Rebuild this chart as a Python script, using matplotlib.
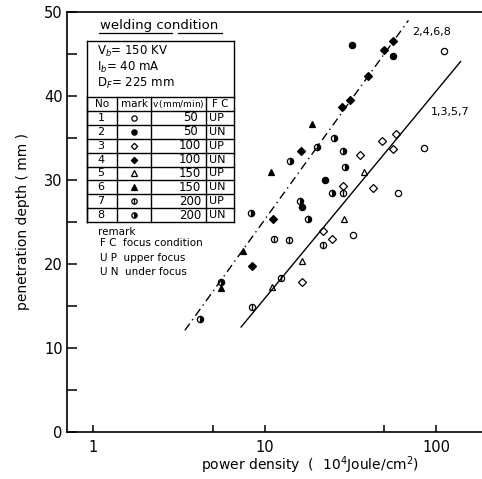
import matplotlib
matplotlib.use("Agg")
import matplotlib.pyplot as plt
from matplotlib.lines import Line2D
from matplotlib.ticker import FixedLocator, NullFormatter

plt.rcParams['font.family'] = ['DejaVu Sans']

# ---------------- data ----------------
s1_x = [111.7, 85.3, 59.9, 32.8]
s1_y = [45.4, 33.8, 28.4, 23.5]
s2_x = [32.3, 56.0, 22.4, 16.5]
s2_y = [46.1, 44.8, 30.0, 26.8]
s3_x = [58.8, 48.1, 56.2, 35.8, 43.0, 21.9, 24.9, 16.6, 28.8]
s3_y = [35.5, 34.6, 33.7, 33.0, 29.0, 23.9, 23.0, 17.9, 29.3]
s4_x = [56.0, 49.4, 39.9, 31.3, 28.3, 16.3, 11.2, 8.4]
s4_y = [46.5, 45.5, 42.4, 39.5, 38.7, 33.4, 25.3, 19.8]
s5_x = [37.8, 28.9, 16.6, 11.1]
s5_y = [30.9, 25.3, 20.4, 17.3]
s6_x = [18.8, 10.9, 7.5, 5.6]
s6_y = [36.7, 30.9, 21.6, 17.1]
s7_x = [28.8, 11.3, 13.8, 21.8, 12.5, 8.5]
s7_y = [28.4, 23.0, 22.9, 22.3, 18.3, 14.9]
s8_x = [25.5, 20.3, 14.1, 28.8, 29.3, 24.6, 16.0, 8.3, 18.0, 5.6, 4.2]
s8_y = [35.0, 33.9, 32.3, 33.4, 31.5, 28.5, 27.5, 26.1, 25.4, 17.9, 13.5]

line_un_x = [3.43, 69.0]   # 2,4,6,8 (under focus) dash-dot
line_un_y = [12.1, 49.0]
line_up_x = [7.3, 139.0]   # 1,3,5,7 (upper focus) solid
line_up_y = [12.5, 44.1]

mark_no = ["1", "2", "3", "4", "5", "6", "7", "8"]
speeds = ["50", "50", "100", "100", "150", "150", "200", "200"]
focus = ["UP", "UN", "UP", "UN", "UP", "UN", "UP", "UN"]

x_ticklabels = ["1", "10", "100"]
y_ticklabels = ["0", "10", "20", "30", "40", "50"]

# ---------------- figure ----------------
W, H = 482, 479
fig = plt.figure(figsize=(W / 100, H / 100), dpi=100)
ax = fig.add_axes([67 / W, 1 - 432 / H, (W - 67) / W, 420 / H])
ax.set_xscale('log')
ax.set_xlim(10 ** -0.152, 10 ** 2.268)
ax.set_ylim(0, 50)

ax.spines['right'].set_visible(False)
for sp in ['left', 'bottom', 'top']:
    ax.spines[sp].set_linewidth(1.2)

ax.xaxis.set_major_locator(FixedLocator([1, 10, 100]))
ax.xaxis.set_minor_locator(FixedLocator([5, 50]))
ax.set_xticklabels(x_ticklabels)
ax.xaxis.set_minor_formatter(NullFormatter())
ax.yaxis.set_major_locator(FixedLocator([0, 10, 20, 30, 40, 50]))
ax.yaxis.set_minor_locator(FixedLocator([5, 15, 25, 35, 45]))
ax.set_yticklabels(y_ticklabels)
ax.tick_params(axis='both', which='both', direction='in', width=1.1, labelsize=10.5)
ax.tick_params(axis='y', which='both', length=7, pad=3)
ax.tick_params(axis='x', which='both', length=5, pad=6)

ms = 4.5
kw = dict(linestyle='none', color='black', markersize=ms, markeredgewidth=0.9, clip_on=False)
ax.plot(s1_x, s1_y, marker='o', markerfacecolor='white', **kw)
ax.plot(s2_x, s2_y, marker='o', markerfacecolor='black', **kw)
ax.plot(s3_x, s3_y, marker='D', markerfacecolor='white', **dict(kw, markersize=3.8))
ax.plot(s4_x, s4_y, marker='D', markerfacecolor='black', **dict(kw, markersize=3.8))
ax.plot(s5_x, s5_y, marker='^', markerfacecolor='white', **kw)
ax.plot(s6_x, s6_y, marker='^', markerfacecolor='black', **kw)
ax.plot(s7_x, s7_y, marker='o', markerfacecolor='white', **kw)
ax.plot(s7_x, s7_y, marker='|', linestyle='none', color='black', markersize=ms, markeredgewidth=1.0)
ax.plot(s8_x, s8_y, marker='o', fillstyle='right', markerfacecolor='black',
        markerfacecoloralt='white', **kw)

ax.plot(line_un_x, line_un_y, color='black', lw=1.0, linestyle=(0, (6, 3, 1, 3)))
ax.plot(line_up_x, line_up_y, color='black', lw=1.0)

fig.text(412 / W, 1 - 32 / H, "2,4,6,8", fontsize=8, va='center', ha='left')
fig.text(431 / W, 1 - 112 / H, "1,3,5,7", fontsize=8, va='center', ha='left')

ax.set_ylabel("penetration depth ( mm )", fontsize=10, labelpad=10)
fig.text(310 / W, 1 - 465 / H, "power density  (  10$^4$Joule/cm$^2$)",
         fontsize=10, ha='center', va='center')

# ---------------- inset table ----------------
def P(px, py):
    return (px / W, 1 - py / H)

def hline(x0, x1, y, lw=1.0):
    fig.add_artist(Line2D([x0 / W, x1 / W], [1 - y / H, 1 - y / H], color='black', lw=lw))

def vline(x, y0, y1, lw=1.0):
    fig.add_artist(Line2D([x / W, x / W], [1 - y0 / H, 1 - y1 / H], color='black', lw=lw))

fig.text(*P(100, 26), "welding condition", fontsize=9.5, va='center', ha='left')
hline(99, 172, 33, lw=0.9)
hline(178, 222, 33, lw=0.9)

left, right = 87, 234
top, head = 41, 97
row_h = 13.9
bottom = head + 9 * row_h
hline(left, right, top)
vline(left, top, bottom)
vline(right, top, head)
fig.text(*P(97, 51), "V$_b$= 150 KV", fontsize=8.5, va='center', ha='left')
fig.text(*P(97, 67), "I$_b$= 40 mA", fontsize=8.5, va='center', ha='left')
fig.text(*P(97, 83), "D$_F$= 225 mm", fontsize=8.5, va='center', ha='left')

cols = [87, 117, 151, 206, 234]
for i in range(10):
    hline(left, right, head + i * row_h)
for c in cols:
    vline(c, head, bottom)

hdr = ["No", "mark", "v$\\,$(mm/min)", "F C"]
for j, t in enumerate(hdr):
    fig.text(*P((cols[j] + cols[j + 1]) / 2, head + row_h / 2), t,
             fontsize=7.5 if j != 2 else 6.5, ha='center', va='center')

marker_specs = [
    dict(marker='o', markerfacecolor='white'),
    dict(marker='o', markerfacecolor='black'),
    dict(marker='D', markerfacecolor='white', markersize=3.2),
    dict(marker='D', markerfacecolor='black', markersize=3.2),
    dict(marker='^', markerfacecolor='white'),
    dict(marker='^', markerfacecolor='black'),
    dict(marker='o', markerfacecolor='white'),
    dict(marker='o', fillstyle='right', markerfacecolor='black', markerfacecoloralt='white'),
]
for i in range(8):
    yc = head + (i + 1.5) * row_h
    fig.text(*P(101, yc), mark_no[i], fontsize=8, ha='center', va='center')
    spec = dict(color='black', markersize=3.8, markeredgewidth=0.9, linestyle='none')
    spec.update(marker_specs[i])
    fig.add_artist(Line2D([134 / W], [1 - yc / H], **spec))
    if i == 6:
        fig.add_artist(Line2D([134 / W], [1 - yc / H], marker='|', color='black',
                              markersize=3.8, markeredgewidth=0.9, linestyle='none'))
    fig.text(*P(190, yc), speeds[i], fontsize=8.5, ha='center', va='center')
    fig.text(*P(209, yc), focus[i], fontsize=8, ha='left', va='center')

fig.text(*P(98, 232), "remark", fontsize=7.5, ha='left', va='center')
fig.text(*P(100, 243), "F C  focus condition", fontsize=7.5, ha='left', va='center')
fig.text(*P(100, 258), "U P  upper focus", fontsize=7.5, ha='left', va='center')
fig.text(*P(100, 272), "U N  under focus", fontsize=7.5, ha='left', va='center')

fig.savefig("out.png", dpi=100)
